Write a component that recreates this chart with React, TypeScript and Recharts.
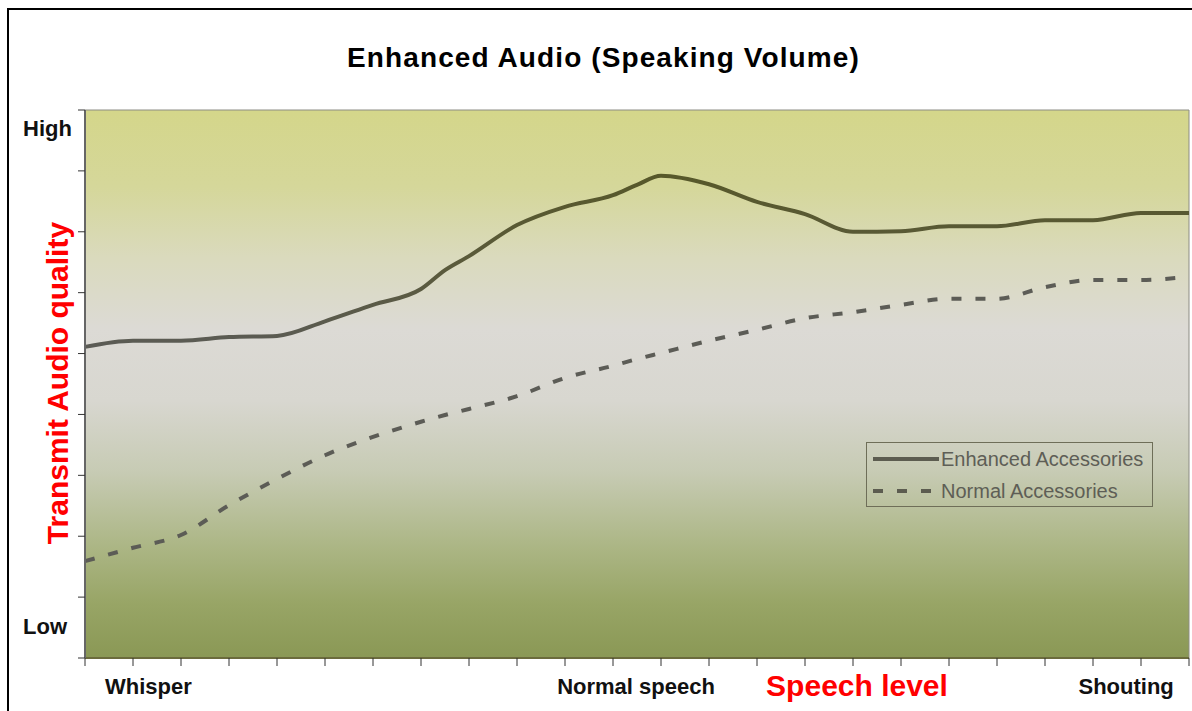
import React from 'react';
import {
  LineChart,
  Line,
  XAxis,
  YAxis,
  Legend,
  ReferenceArea,
  Label,
} from 'recharts';

// speech level positions (0 = whisper end, 23 = shouting end)
const levels = [0, 1, 2, 3, 4, 5, 6, 7, 7.5, 8, 9, 10, 11, 11.5, 12, 13, 14, 15, 16, 17, 18, 19, 20, 21, 22, 23];
const enhanced = [5.11, 5.21, 5.21, 5.27, 5.29, 5.53, 5.8, 6.06, 6.37, 6.6, 7.11, 7.41, 7.6, 7.77, 7.92, 7.78, 7.49, 7.29, 7.0, 7.01, 7.09, 7.09, 7.19, 7.19, 7.31, 7.31];
const normal = [1.59, 1.81, 2.02, 2.51, 2.94, 3.33, 3.63, 3.88, 3.99, 4.09, 4.3, 4.6, 4.8, 4.91, 5.01, 5.21, 5.39, 5.58, 5.68, 5.8, 5.9, 5.9, 6.09, 6.21, 6.21, 6.26];

const xTicks = [0, 1, 2, 3, 4, 5, 6, 7, 8, 9, 10, 11, 12, 13, 14, 15, 16, 17, 18, 19, 20, 21, 22, 23];
const yTicks = [0, 1, 2, 3, 4, 5, 6, 7, 8, 9];
const xLabelPos = [1.32, 11.48, 21.69];
const xLabels = ['Whisper', 'Normal speech', 'Shouting'];
const yLabelPos = [0.53, 8.7];
const yLabels = ['Low', 'High'];

const data = levels.map((x, i) => ({ x, enhanced: enhanced[i], normal: normal[i] }));

const FONT = 'Arial, "Liberation Sans", Helvetica, sans-serif';

const XLabelTick = ({ x, y, payload }: any) => {
  const i = xLabelPos.indexOf(payload.value);
  return (
    <text x={x} y={y + 28} textAnchor="middle" fontFamily={FONT} fontWeight="bold" fontSize={22} fill="#111">
      {xLabels[i]}
    </text>
  );
};

const YLabelTick = ({ y, payload }: any) => {
  const i = yLabelPos.indexOf(payload.value);
  return (
    <text x={23} y={y + 8} textAnchor="start" fontFamily={FONT} fontWeight="bold" fontSize={22} fill="#111">
      {yLabels[i]}
    </text>
  );
};

const LegendBox = ({ payload }: any) => (
  <div
    style={{
      width: 285,
      height: 63,
      border: '1px solid #6e6e58',
      fontFamily: FONT,
      fontSize: 20,
      color: '#5e5e56',
      boxSizing: 'content-box',
    }}
  >
    {(payload || []).map((entry: any, i: number) => (
      <div key={i} style={{ display: 'flex', alignItems: 'center', height: 32, paddingLeft: 6 }}>
        <svg width={68} height={10} style={{ display: 'block' }}>
          <line
            x1={0}
            y1={5}
            x2={66}
            y2={5}
            stroke="#5c5c50"
            strokeWidth={4}
            strokeDasharray={entry.payload?.strokeDasharray}
          />
        </svg>
        <span style={{ lineHeight: '20px' }}>{entry.value}</span>
      </div>
    ))}
  </div>
);

export default function App() {
  return (
    <div style={{ position: 'absolute', left: 0, top: 0, width: 1192, height: 711, background: '#fff', overflow: 'hidden' }}>
      <div
        style={{
          position: 'absolute',
          left: 7,
          top: 8,
          width: 1300,
          height: 800,
          border: '2px solid #000',
        }}
      />
      <div
        style={{
          position: 'absolute',
          left: 0,
          top: 42,
          width: 1207,
          textAlign: 'center',
          fontFamily: FONT,
          fontWeight: 'bold',
          fontSize: 28,
          letterSpacing: 1.1,
          color: '#000',
        }}
      >
        Enhanced Audio (Speaking Volume)
      </div>
      <div style={{ position: 'absolute', left: 0, top: 0 }}>
        <LineChart width={1192} height={711} data={data} margin={{ top: 110, right: 3, bottom: 0, left: 0 }}>
          <defs>
            <linearGradient id="plotBg" x1="0" y1="0" x2="0" y2="1">
              <stop offset="0" stopColor="#d4d68a" />
              <stop offset="0.14" stopColor="#d5d79a" />
              <stop offset="0.27" stopColor="#dadabd" />
              <stop offset="0.4" stopColor="#dcdad5" />
              <stop offset="0.53" stopColor="#d8d7d0" />
              <stop offset="0.66" stopColor="#c7cbb4" />
              <stop offset="0.79" stopColor="#adb787" />
              <stop offset="0.9" stopColor="#98a566" />
              <stop offset="1" stopColor="#8a9855" />
            </linearGradient>
            <linearGradient id="enhStroke" x1="0" y1="0" x2="0" y2="1">
              <stop offset="0" stopColor="#57582a" />
              <stop offset="0.55" stopColor="#5a5a3c" />
              <stop offset="1" stopColor="#5b5b55" />
            </linearGradient>
          </defs>
          <XAxis
            dataKey="x"
            type="number"
            domain={[0, 23]}
            ticks={xTicks}
            interval={0}
            height={8}
            tickSize={8}
            tickFormatter={() => ''}
            axisLine={{ stroke: '#6b6b3c', strokeWidth: 2 }}
            tickLine={{ stroke: '#333' }}
          />
          <XAxis
            xAxisId="lbl"
            dataKey="x"
            type="number"
            domain={[0, 23]}
            ticks={xLabelPos}
            interval={0}
            height={45}
            tickSize={0}
            tickMargin={0}
            axisLine={false}
            tickLine={false}
            tick={<XLabelTick />}
          >
            <Label
              content={() => (
                <text x={857} y={696} textAnchor="middle" fontFamily={FONT} fontWeight="bold" fontSize={30} fill="#ff0000">
                  Speech level
                </text>
              )}
            />
          </XAxis>
          <YAxis
            type="number"
            domain={[0, 9]}
            ticks={yTicks}
            interval={0}
            width={8}
            tickSize={7}
            tickFormatter={() => ''}
            axisLine={{ stroke: '#666', strokeWidth: 2 }}
            tickLine={{ stroke: '#333' }}
          />
          <YAxis
            yAxisId="lbl"
            dataKey="enhanced"
            type="number"
            domain={[0, 9]}
            ticks={yLabelPos}
            interval={0}
            width={77}
            tickSize={0}
            tickMargin={0}
            axisLine={false}
            tickLine={false}
            tick={<YLabelTick />}
          >
            <Label
              content={() => (
                <text
                  x={68}
                  y={383}
                  transform="rotate(-90, 68, 383)"
                  textAnchor="middle"
                  fontFamily={FONT}
                  fontWeight="bold"
                  fontSize={30}
                  fill="#ff0000"
                >
                  Transmit Audio quality
                </text>
              )}
            />
          </YAxis>
          <ReferenceArea
            x1={0}
            x2={23}
            y1={0}
            y2={9}
            fill="url(#plotBg)"
            fillOpacity={1}
            stroke="#8c8c84"
            strokeWidth={1}
          />
          <Legend
            verticalAlign="middle"
            align="center"
            wrapperStyle={{ left: 866, top: 442, width: 'auto' }}
            content={<LegendBox />}
          />
          <Line
            type="monotone"
            dataKey="enhanced"
            name="Enhanced Accessories"
            stroke="url(#enhStroke)"
            strokeWidth={4}
            dot={false}
            activeDot={false}
            isAnimationActive={false}
          />
          <Line
            type="monotone"
            dataKey="normal"
            name="Normal Accessories"
            stroke="#5c5c56"
            strokeWidth={4}
            strokeDasharray="10 14"
            dot={false}
            activeDot={false}
            isAnimationActive={false}
          />
        </LineChart>
      </div>
    </div>
  );
}
